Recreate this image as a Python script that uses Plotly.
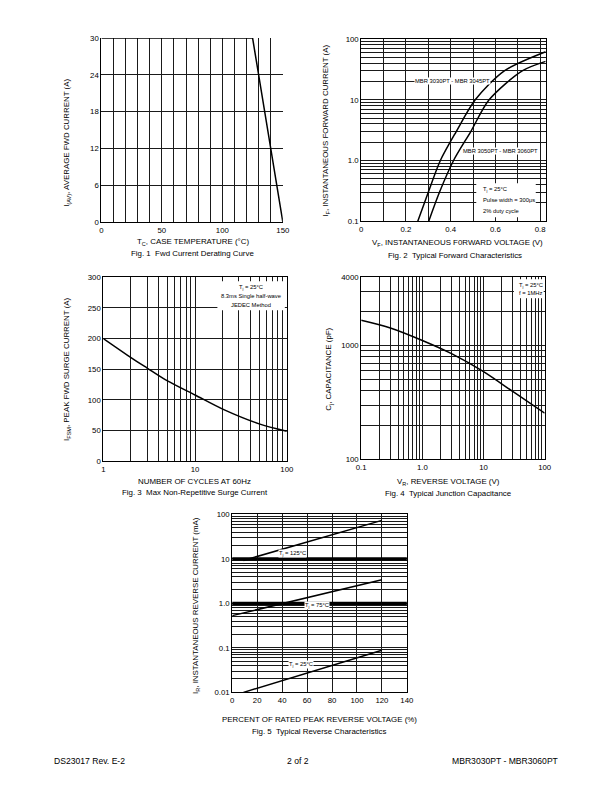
import plotly.graph_objects as go

# page is 612x792; the figure sits inside the default 8px body margin.
PAGE_W, PAGE_H = 612, 792
OFF = 8
W, H = PAGE_W - 2 * OFF, PAGE_H - 2 * OFF
# empirical correction of the on-screen placement
SC, SH = 0.988, 3.0

def px(x):
    return ((x - SH) / SC - OFF) / W

def py(y):
    return 1 - ((y - SH) / SC - OFF) / H

# ---------------- DATA ----------------
# Fig 1: derating curve
f1_temp = [0, 125, 150]
f1_current = [30, 30, 0]
f1_xticks = [0, 50, 100, 150]
f1_yticks = [0, 6, 12, 18, 24, 30]

# Fig 2: forward characteristics
f2_vf_a = [0.253, 0.300, 0.354, 0.425, 0.510, 0.640, 0.825]
f2_if_a = [0.1, 0.3, 1.0, 3.0, 10.0, 30.0, 62.0]
f2_vf_b = [0.302, 0.350, 0.413, 0.490, 0.572, 0.720, 0.825]
f2_if_b = [0.1, 0.3, 1.0, 3.0, 10.0, 30.0, 43.0]
f2_xticks = [0, 0.2, 0.4, 0.6, 0.8]
f2_xtext = ["0", "0.2", "0.4", "0.6", "0.8"]
f2_yticks = [0.1, 1, 10, 100]
f2_ytext = ["0.1", "1.0", "10", "100"]

# Fig 3: surge current
f3_cycles = [1, 2, 3, 5, 10, 20, 50, 100]
f3_ifsm = [200, 169, 152, 131, 108, 85, 61, 49]
f3_xticks = [1, 10, 100]
f3_yticks = [0, 50, 100, 150, 200, 250, 300]

# Fig 4: junction capacitance
f4_vr = [0.1, 0.3, 1, 3, 10, 30, 100]
f4_cj = [1670, 1430, 1110, 850, 590, 395, 255]
f4_xticks = [0.1, 1, 10, 100]
f4_xtext = ["0.1", "1.0", "10", "100"]
f4_yticks = [100, 1000, 4000]

# Fig 5: reverse characteristics
f5_pct_125 = [9, 120]
f5_ir_125 = [9.2, 73]
f5_pct_75 = [0, 120]
f5_ir_75 = [0.53, 3.4]
f5_pct_25 = [9, 120]
f5_ir_25 = [0.0100, 0.088]
f5_xticks = [0, 20, 40, 60, 80, 100, 120, 140]
f5_yticks = [0.01, 0.1, 1, 10, 100]
f5_ytext = ["0.01", "0.1", "1.0", "10", "100"]


def decade_minor(lo_exp, hi_exp):
    vals = []
    for e in range(lo_exp, hi_exp):
        for m in range(2, 10):
            vals.append(m * 10 ** e)
    return vals

# ---------------- FIGURE ----------------
FONT = "Liberation Sans, Arial, sans-serif"
TICK = 7.8
TITLE = 7.9
SMALL = 5.8
fig = go.Figure()

line = dict(color="black", width=1.5)
spl = dict(color="black", width=1.5, shape="spline", smoothing=0.8)
fig.add_trace(go.Scatter(x=f1_temp, y=f1_current, mode="lines", line=line, xaxis="x", yaxis="y", cliponaxis=False))
fig.add_trace(go.Scatter(x=f2_vf_a, y=f2_if_a, mode="lines", line=spl, xaxis="x2", yaxis="y2"))
fig.add_trace(go.Scatter(x=f2_vf_b, y=f2_if_b, mode="lines", line=spl, xaxis="x2", yaxis="y2"))
fig.add_trace(go.Scatter(x=f3_cycles, y=f3_ifsm, mode="lines", line=spl, xaxis="x3", yaxis="y3"))
fig.add_trace(go.Scatter(x=f4_vr, y=f4_cj, mode="lines", line=spl, xaxis="x4", yaxis="y4"))
fig.add_trace(go.Scatter(x=f5_pct_125, y=f5_ir_125, mode="lines", line=line, xaxis="x5", yaxis="y5"))
fig.add_trace(go.Scatter(x=f5_pct_75, y=f5_ir_75, mode="lines", line=line, xaxis="x5", yaxis="y5"))
fig.add_trace(go.Scatter(x=f5_pct_25, y=f5_ir_25, mode="lines", line=line, xaxis="x5", yaxis="y5"))

GRID = "#1a1a1a"


def axis(dom, anchor, tickvals, ticktext=None, minor=None, mirror=True, **kw):
    d = dict(domain=dom, anchor=anchor, showline=True, linecolor="black", linewidth=1,
             mirror=mirror, ticks="", showgrid=True, gridcolor=GRID, gridwidth=1,
             zeroline=False, tickmode="array", tickvals=tickvals,
             tickfont=dict(size=TICK, family=FONT, color="black"), fixedrange=True)
    if ticktext is not None:
        d["ticktext"] = ticktext
    if minor is not None:
        d["minor"] = dict(tickmode="array", tickvals=minor, showgrid=True,
                          gridcolor=GRID, gridwidth=1, ticks="")
    d.update(kw)
    return d

layout = dict(
    width=W, height=H, margin=dict(l=0, r=0, t=0, b=0),
    paper_bgcolor="white", plot_bgcolor="white", showlegend=False,
    font=dict(family=FONT, color="black", size=TICK),
)

# Fig 1
layout["xaxis"] = axis([px(100), px(283)], "y", f1_xticks,
                       minor=[10, 20, 30, 40, 60, 70, 80, 90, 110, 120, 130, 140],
                       range=[0, 150], mirror=False)
layout["yaxis"] = axis([py(221), py(37)], "x", f1_yticks, range=[0, 30], mirror=False)
# Fig 2
layout["xaxis2"] = axis([px(362), px(548)], "y2", f2_xticks, f2_xtext,
                        minor=[0.1, 0.3, 0.5, 0.7], range=[0, 0.825])
layout["yaxis2"] = axis([py(220), py(38)], "x2", f2_yticks, f2_ytext,
                        minor=decade_minor(-1, 2), type="log", range=[-1, 2])
# Fig 3
layout["xaxis3"] = axis([px(102), px(287)], "y3", f3_xticks,
                        minor=decade_minor(0, 2), type="log", range=[0, 2])
layout["yaxis3"] = axis([py(460), py(276)], "x3", f3_yticks, range=[0, 300])
# Fig 4
layout["xaxis4"] = axis([px(362), px(547)], "y4", f4_xticks, f4_xtext,
                        minor=decade_minor(-1, 2), type="log", range=[-1, 2])
layout["yaxis4"] = axis([py(458), py(276)], "x4", f4_yticks,
                        minor=decade_minor(2, 3) + [2000, 3000], type="log",
                        range=[2, 3.60206])
# Fig 5
layout["xaxis5"] = axis([px(232), px(408)], "y5", f5_xticks, range=[0, 140])
layout["yaxis5"] = axis([py(691), py(513)], "x5", f5_yticks, f5_ytext,
                        minor=decade_minor(-2, 2), type="log", range=[-2, 2])

shapes = []
# thick lines at 10 and 1.0 on fig 5
for v in [10, 1]:
    shapes.append(dict(type="line", xref="x5 domain", yref="y5", x0=0, x1=1, y0=v, y1=v,
                       line=dict(color="black", width=3.2), layer="above"))

def box(x0, y0, x1, y1):
    shapes.append(dict(type="rect", xref="paper", yref="paper", x0=px(x0), x1=px(x1),
                       y0=py(y1), y1=py(y0), fillcolor="white", line=dict(width=0), layer="above"))
box(478, 182, 538, 216)
box(217, 280, 285, 309)
box(516, 278, 546, 297)
layout["shapes"] = shapes

ann = []

def text(x, y, s, size=TITLE, angle=0, xanchor="center", bg=None, align="center"):
    a = dict(x=px(x), y=py(y), xref="paper", yref="paper", text=s, showarrow=False,
             font=dict(size=size, family=FONT, color="black"), textangle=angle,
             xanchor=xanchor, yanchor="middle", align=align)
    if bg:
        a["bgcolor"] = bg
        a["borderpad"] = 0
    ann.append(a)

# Fig 1 texts
text(66, 142, "I<sub>(AV)</sub>, AVERAGE FWD CURRENT (A)", angle=-90)
text(192, 241, "T<sub>C</sub>, CASE TEMPERATURE (°C)")
text(192, 252, "Fig. 1  Fwd Current Derating Curve")
# Fig 2 texts
text(327, 129, "I<sub>F</sub>, INSTANTANEOUS FORWARD CURRENT (A)", angle=-90)
text(459, 242, "V<sub>F</sub>, INSTANTANEOUS F0RWARD VOLTAGE (V)")
text(457, 254, "Fig. 2  Typical Forward Characteristics")
text(454, 80, "MBR 3030PT - MBR 3045PT", size=SMALL, bg="white")
text(502, 150, "MBR 3050PT - MBR 3060PT", size=SMALL, bg="white")
text(483, 188, "T<sub>j</sub> = 25°C", size=SMALL, xanchor="left")
text(483, 199, "Pulse width = 300μs", size=SMALL, xanchor="left")
text(483, 210, "2% duty cycle", size=SMALL, xanchor="left")
# Fig 3 texts
text(66, 368, "I<sub>FSM</sub>, PEAK FWD SURGE CURRENT (A)", angle=-90)
text(194, 480, "NUMBER OF CYCLES AT 60Hz")
text(194, 491, "Fig. 3  Max Non-Repetitive Surge Current")
text(251, 286, "T<sub>j</sub> = 25°C", size=SMALL)
text(251, 295, "8.3ms Single half-wave", size=SMALL)
text(251, 304, "JEDEC Method", size=SMALL)
# Fig 4 texts
text(330, 368, "C<sub>j</sub>, CAPACITANCE (pF)", angle=-90)
text(450, 481, "V<sub>R</sub>, REVERSE VOLTAGE (V)")
text(450, 492, "Fig. 4  Typical Junction Capacitance")
text(519, 284, "T<sub>j</sub> = 25°C", size=SMALL, xanchor="left")
text(519, 292, "f = 1MHz", size=SMALL, xanchor="left")
# Fig 5 texts
text(196, 604, "I<sub>R</sub>, INSTANTANEOUS REVERSE CURRENT (mA)", angle=-90)
text(320, 718, "PERCENT OF RATED PEAK REVERSE VOLTAGE (%)")
text(320, 730, "Fig. 5  Typical Reverse Characteristics")
text(293, 552, "T<sub>j</sub> = 125°C", size=SMALL, bg="white")
text(317, 604, "T<sub>j</sub> = 75°C", size=SMALL, bg="white")
text(301, 663, "T<sub>j</sub> = 25°C", size=SMALL, bg="white")
# footer
text(50, 760, "DS23017 Rev. E-2", size=8.6, xanchor="left")
text(298, 760, "2 of 2", size=8.6)
text(563, 760, "MBR3030PT - MBR3060PT", size=8.6, xanchor="right")

layout["annotations"] = ann
fig.update_layout(**layout)
fig.write_html("out.html")
